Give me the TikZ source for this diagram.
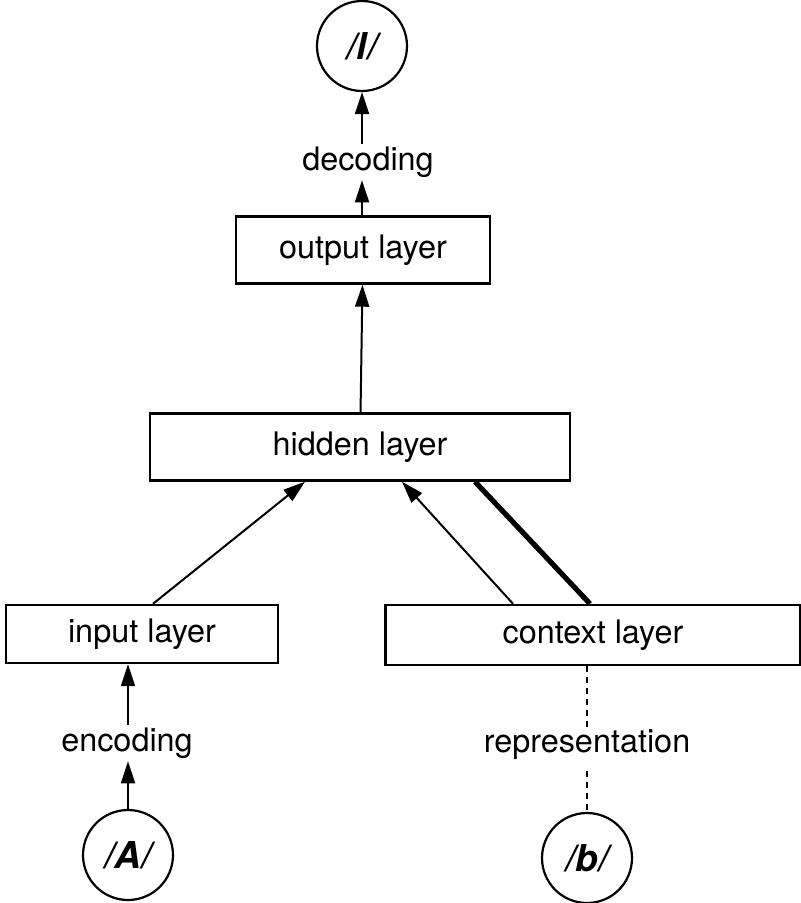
\documentclass[tikz,border=0pt]{standalone}
\usepackage{fontspec}
\setmainfont{TeX Gyre Heros}
\usetikzlibrary{arrows.meta}

\begin{document}
\begin{tikzpicture}
        [x=0.5pt,y=-0.5pt,line width=1pt,>={Triangle[length=11pt,width=7pt]},
        every node/.style={font=\fontsize{16.2}{19}\selectfont},
        layer/.style={draw,line width=1.2pt,rectangle,inner sep=0pt},
        phon/.style={draw,line width=1.1pt,circle,minimum size=45pt,inner sep=0pt,
                font=\fontsize{18.5}{22}\selectfont\bfseries\itshape},
        word/.style={inner sep=1pt},
        link/.style={line width=1.3pt,dash pattern=on 3pt off 2.5pt}]
        \useasboundingbox (0,0) rectangle (801,903);
		% phonemes
		\node[phon] (l) at (362,46) {/l/};
		\node[phon] (A) at (128,855) {/A/};
		\node[phon] (b) at (587,858) {/b/};
		% layers
		\node[layer,minimum width=127pt,minimum height=33.5pt] (out) at (363,250) {output layer};
		\node[layer,minimum width=210pt,minimum height=33.5pt] (hid) at (360,447) {hidden layer};
		\node[layer,minimum width=136pt,minimum height=29pt] (inp) at (142,634) {input layer};
		\node[layer,minimum width=207.5pt,minimum height=30pt] (ctx) at (593,635) {context layer};
		% labels
		\node[word] (dec) at (368,162) {decoding};
		\node[word] (enc) at (127,743) {encoding};
		\node[word] (rep) at (587,745) {representation};
		% connections
		\draw[->] (out.north -| l) -- (dec.south -| l);
		\draw[->] (dec.north -| l) -- (l);
		\draw[->] (hid) -- (out);
		\draw[->] ([xshift=5.5pt]inp.north) -- ([xshift=-27.5pt]hid.south);
		\draw[->] ([xshift=-40pt]ctx.north) -- ([xshift=21pt]hid.south);
		\draw[line width=2.6pt] ([xshift=57.5pt]hid.south) -- ([xshift=-1.5pt]ctx.north);
		\draw[->] (A) -- (enc.south -| A);
		\draw[->] (enc.north -| A) -- (inp.south -| A);
		\draw[link] (ctx.south -| b) -- (rep.north -| b);
		\draw[link] ([yshift=-4pt]rep.south -| b) -- (b);
	\end{tikzpicture}
\end{document}
